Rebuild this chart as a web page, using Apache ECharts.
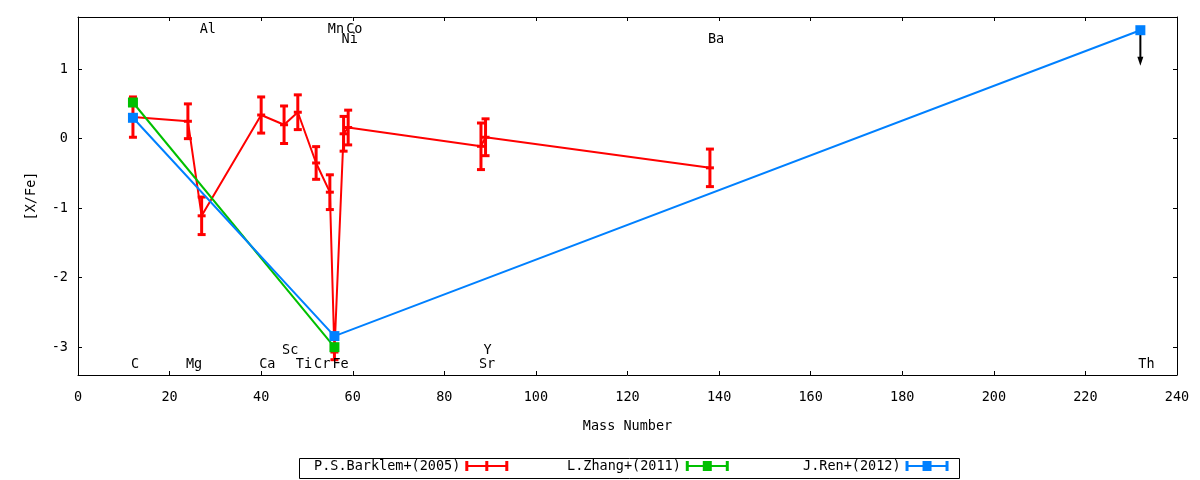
<!DOCTYPE html>
<html>
<head>
<meta charset="utf-8">
<script src="https://cdn.jsdelivr.net/npm/echarts@6/dist/echarts.min.js"></script>
<style>
html,body{margin:0;padding:0;background:#fff;}
#chart{width:1200px;height:480px;}
</style>
</head>
<body>
<div id="chart"></div>
<script>
// ---- Data ----
// P.S.Barklem+(2005)
const barklemElements = ['C','Mg','Al','Ca','Sc','Ti','Cr','Mn','Fe','Ni','Co','Sr','Y','Ba'];
const barklemMass     = [12, 24, 27, 40, 45, 48, 52, 55, 56, 58, 59, 88, 89, 138];
const barklemValue    = [0.31, 0.25, -1.11, 0.34, 0.20, 0.38, -0.35, -0.77, -3.07, 0.07, 0.16, -0.11, 0.02, -0.42];
const barklemError    = [0.29, 0.25, 0.27, 0.26, 0.27, 0.25, 0.235, 0.25, 0.11, 0.25, 0.25, 0.335, 0.265, 0.27];
// L.Zhang+(2011)
const zhangMass  = [12, 56];
const zhangValue = [0.52, -3.00];
// J.Ren+(2012)
const renMass  = [12, 56, 232];
const renValue = [0.30, -2.84, 1.56];
// Upper-limit arrow (Th)
const arrowStart = [232, 1.56];
const arrowEnd   = [232, 1.05];
// Element labels
const labelNames = ['C','Mg','Al','Ca','Sc','Ti','Cr','Fe','Mn','Co','Ni','Sr','Y','Ba','Th'];
const labelMass  = [12, 24, 27, 40, 45, 48, 52, 56, 55, 59, 58, 88, 89, 138, 232];
const labelY     = [-3.22, -3.22, 1.60, -3.22, -3.02, -3.22, -3.22, -3.22, 1.60, 1.60, 1.455, -3.22, -3.02, 1.455, -3.22];
// Axis
const xTicks = {min: 0, max: 240, interval: 20};
const yRange = {min: -3.4, max: 1.75};
const seriesNames = ['P.S.Barklem+(2005)', 'L.Zhang+(2011)', 'J.Ren+(2012)'];

const RED = '#ff0000', GREEN = '#00c000', BLUE = '#0080ff';
const FONT = 'DejaVu Sans Mono';
const FS = 13.5;

const zip = (a, b) => a.map((v, i) => [v, b[i]]);

function errRender(color) {
  return function (params, api) {
    const x = api.value(0), y = api.value(1), e = api.value(2);
    const t = api.coord([x, y + e]);
    const b = api.coord([x, y - e]);
    const m = api.coord([x, y]);
    const hw = 4;
    const st = {stroke: color, lineWidth: 3, fill: null};
    return {type: 'group', children: [
      {type: 'line', shape: {x1: t[0], y1: t[1], x2: b[0], y2: b[1]}, style: st},
      {type: 'line', shape: {x1: t[0] - hw, y1: t[1], x2: t[0] + hw, y2: t[1]}, style: st},
      {type: 'line', shape: {x1: b[0] - hw, y1: b[1], x2: b[0] + hw, y2: b[1]}, style: st},
      {type: 'line', shape: {x1: m[0] - hw, y1: m[1], x2: m[0] + hw, y2: m[1]}, style: st}
    ]};
  };
}

const iconBar = 'path://M0,0H3V4H20V0H23V4H40V0H43V10H40V6H23V10H20V6H3V10H0Z';
const iconSq  = 'path://M0,0H3V4H17V0H26V4H40V0H43V10H40V6H26V10H17V6H3V10H0Z';

const axisCommon = {
  axisLine: {show: true, onZero: false, lineStyle: {color: '#000', width: 1}},
  axisTick: {show: true, inside: true, length: 4, lineStyle: {color: '#000'}},
  splitLine: {show: false}
};

function legendAt(left, name, icon) {
  return {
    left: left, top: 459, padding: 0, align: 'right',
    itemWidth: 43, itemHeight: 10, itemGap: 0,
    selectedMode: false,
    textStyle: {fontFamily: FONT, fontSize: FS, color: '#000', padding: [2, 0, 0, 0]},
    itemStyle: {borderWidth: 0},
    lineStyle: {width: 0},
    data: [{name: name, icon: icon}]
  };
}

const chart = echarts.init(document.getElementById('chart'), null, {renderer: 'canvas'});
chart.setOption({
  animation: false,
  backgroundColor: '#fff',
  textStyle: {fontFamily: FONT},
  grid: {left: 78, right: 23, top: 17, bottom: 105, containLabel: false},
  legend: [
    legendAt(314, seriesNames[0], iconBar),
    legendAt(567, seriesNames[1], iconSq),
    legendAt(803, seriesNames[2], iconSq)
  ],
  graphic: [{
    type: 'rect', left: 297, top: 456, silent: true,
    shape: {width: 660, height: 20},
    style: {fill: null, stroke: '#000', lineWidth: 1}
  }],
  xAxis: [
    Object.assign({}, axisCommon, {
      type: 'value', position: 'bottom', min: xTicks.min, max: xTicks.max, interval: xTicks.interval,
      axisLabel: {color: '#000', fontFamily: FONT, fontSize: FS, margin: 15},
      name: 'Mass Number', nameLocation: 'middle', nameGap: 44,
      nameTextStyle: {color: '#000', fontFamily: FONT, fontSize: FS}
    }),
    Object.assign({}, axisCommon, {
      type: 'value', position: 'top', min: xTicks.min, max: xTicks.max, interval: xTicks.interval,
      axisLabel: {show: false}
    })
  ],
  yAxis: [
    Object.assign({}, axisCommon, {
      type: 'value', position: 'left', min: yRange.min, max: yRange.max, splitNumber: 5,
      axisLabel: {color: '#000', fontFamily: FONT, fontSize: FS, margin: 10, showMinLabel: false, showMaxLabel: false},
      name: '[X/Fe]', nameLocation: 'middle', nameGap: 40, nameRotate: 90,
      nameTextStyle: {color: '#000', fontFamily: FONT, fontSize: FS}
    }),
    Object.assign({}, axisCommon, {
      type: 'value', position: 'right', min: yRange.min, max: yRange.max, splitNumber: 5,
      axisLabel: {show: false}
    })
  ],
  series: [
    {
      name: seriesNames[0], type: 'line', data: zip(barklemMass, barklemValue),
      color: RED, itemStyle: {color: RED}, lineStyle: {color: RED, width: 2},
      symbol: 'none', silent: true, z: 2
    },
    {
      name: seriesNames[0] + ' err', type: 'custom',
      data: barklemMass.map((m, i) => [m, barklemValue[i], barklemError[i]]),
      renderItem: errRender(RED), silent: true, z: 3
    },
    {
      name: seriesNames[1], type: 'line', data: zip(zhangMass, zhangValue),
      color: GREEN, itemStyle: {color: GREEN}, lineStyle: {color: GREEN, width: 2},
      symbol: 'rect', symbolSize: 10, showAllSymbol: true, silent: true, z: 4
    },
    {
      name: 'arrow', type: 'custom', data: [[arrowStart[0], arrowStart[1], arrowEnd[1]]],
      renderItem: function (params, api) {
        const s = api.coord([api.value(0), api.value(1)]);
        const e = api.coord([api.value(0), api.value(2)]);
        return {type: 'group', children: [
          {type: 'line', shape: {x1: s[0], y1: s[1], x2: e[0], y2: e[1] - 6}, style: {stroke: '#000', lineWidth: 2}},
          {type: 'polygon', shape: {points: [[e[0], e[1]], [e[0] - 3, e[1] - 9], [e[0] + 3, e[1] - 9]]}, style: {fill: '#000'}}
        ]};
      },
      silent: true, z: 4
    },
    {
      name: seriesNames[2], type: 'line', data: zip(renMass, renValue),
      color: BLUE, itemStyle: {color: BLUE}, lineStyle: {color: BLUE, width: 2},
      symbol: 'rect', symbolSize: 10, showAllSymbol: true, silent: true, z: 5
    },
    {
      name: 'labels', type: 'custom', data: labelMass.map((m, i) => [m, labelY[i], i]),
      renderItem: function (params, api) {
        const p = api.coord([api.value(0), api.value(1)]);
        return {
          type: 'text', x: p[0] - 2, y: p[1] + 2,
          style: {
            text: labelNames[api.value(2)], fill: '#000',
            font: FS + 'px "' + FONT + '"',
            textAlign: 'left', textVerticalAlign: 'middle',
            align: 'left', verticalAlign: 'middle'
          }
        };
      },
      silent: true, z: 6
    }
  ]
});
</script>
</body>
</html>
